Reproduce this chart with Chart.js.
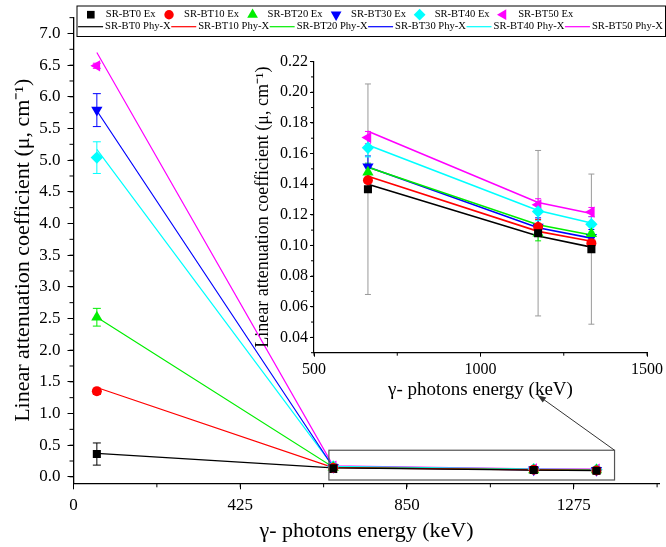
<!DOCTYPE html>
<html>
<head>
<meta charset="utf-8">
<script src="https://cdn.jsdelivr.net/npm/chart.js@4.4.1/dist/chart.umd.min.js"></script>
<style>
  body { margin: 0; background: #fff; }
  #wrap { position: relative; width: 666px; height: 547px; }
  #main { position: absolute; left: 0; top: 0; width: 666px; height: 547px; }
  #inset { position: absolute; left: 250px; top: 50px; width: 416px; height: 355px; }
</style>
</head>
<body>
<div id="wrap">
  <div id="main"><canvas id="mainChart"></canvas></div>
  <div id="inset"><canvas id="insetChart"></canvas></div>
</div>
<script>
// gamma energies (keV)
const energy = [59.5, 662, 1173, 1333];
const samples = ['SR-BT0', 'SR-BT10', 'SR-BT20', 'SR-BT30', 'SR-BT40', 'SR-BT50'];

// experimental values and their errors
const expBT0 = [0.36, 0.1367, 0.108, 0.0976];
const expBT10 = [1.35, 0.1426, 0.112, 0.1015];
const expBT20 = [2.52, 0.1477, 0.108, 0.1077];
const expBT30 = [5.79, 0.1514, 0.112, 0.1054];
const expBT40 = [5.04, 0.1638, 0.1222, 0.1138];
const expBT50 = [6.49, 0.1704, 0.1265, 0.1218];

const errBT0 = [0.175, 0.0687, 0.054, 0.049];
const errBT10 = [0.05, 0.005, 0.005, 0.004];
const errBT20 = [0.14, 0.006, 0.005, 0.005];
const errBT30 = [0.26, 0.007, 0.006, 0.005];
const errBT40 = [0.25, 0.006, 0.006, 0.005];
const errBT50 = [0.04, 0.004, 0.004, 0.003];

// Phy-X/PSD values
const phyBT0 = [0.37, 0.140, 0.1062, 0.0989];
const phyBT10 = [1.41, 0.1452, 0.1092, 0.1028];
const phyBT20 = [2.52, 0.151, 0.1135, 0.1068];
const phyBT30 = [5.78, 0.1512, 0.1115, 0.1048];
const phyBT40 = [5.17, 0.1655, 0.1228, 0.1146];
const phyBT50 = [6.70, 0.1745, 0.1280, 0.1208];

// ticks
const xTicks = [0, 425, 850, 1275];
const yTicks = [0.0, 0.5, 1.0, 1.5, 2.0, 2.5, 3.0, 3.5, 4.0, 4.5, 5.0, 5.5, 6.0, 6.5, 7.0];
const insetXTicks = [500, 1000, 1500];
const insetYTicks = [0.04, 0.06, 0.08, 0.10, 0.12, 0.14, 0.16, 0.18, 0.20, 0.22];

// zoom frame drawn on the main plot (data units) and the arrow tip
const boxX = [651, 1379];
const boxY = [-0.05, 0.42];
const arrowTip = [1183, 1.29];

const expData = [expBT0, expBT10, expBT20, expBT30, expBT40, expBT50];
const errData = [errBT0, errBT10, errBT20, errBT30, errBT40, errBT50];
const phyData = [phyBT0, phyBT10, phyBT20, phyBT30, phyBT40, phyBT50];
const colors = ['#000000', '#ff0000', '#00ee00', '#0000ff', '#00ffff', '#ff00ff'];
const styles = ['rect', 'circle', 'triangle', 'triangle', 'rectRot', 'triangle'];
const rotations = [0, 0, 0, 180, 0, -90];
const radii = [5.7, 5, 6.5, 6.5, 6.2, 6.5];

const serif = "'Liberation Serif', 'Times New Roman', serif";
Chart.defaults.font.family = serif;
Chart.defaults.color = '#000';

const errorBars = {
  id: 'errorBars',
  beforeDatasetsDraw(chart, args, opts) {
    const ctx = chart.ctx, a = chart.chartArea;
    const xs = chart.scales.x, ys = chart.scales.y;
    ctx.save();
    ctx.beginPath();
    ctx.rect(a.left, a.top, a.right - a.left, a.bottom - a.top);
    ctx.clip();
    ctx.lineWidth = 1;
    chart.data.datasets.forEach(ds => {
      if (!ds.errors) return;
      ctx.strokeStyle = ds.errorColor || ds.borderColor;
      ds.data.forEach((p, i) => {
        const e = ds.errors[i];
        const x = xs.getPixelForValue(p.x);
        const y1 = ys.getPixelForValue(p.y - e);
        const y2 = ys.getPixelForValue(p.y + e);
        ctx.beginPath();
        ctx.moveTo(x, y1); ctx.lineTo(x, y2);
        ctx.moveTo(x - opts.cap, y1); ctx.lineTo(x + opts.cap, y1);
        ctx.moveTo(x - opts.cap, y2); ctx.lineTo(x + opts.cap, y2);
        ctx.stroke();
      });
    });
    ctx.restore();
  }
};

const minorTicks = {
  id: 'minorTicks',
  afterDraw(chart, args, opts) {
    const ctx = chart.ctx;
    ctx.save();
    ctx.strokeStyle = '#000';
    ctx.lineWidth = 1;
    opts.list.forEach(([id, start, step, len]) => {
      const s = chart.scales[id];
      for (let k = 0; ; k++) {
        const v = start + k * step;
        if (v > s.max + 1e-9) break;
        if (v < s.min - 1e-9) continue;
        const p = s.getPixelForValue(v);
        ctx.beginPath();
        if (s.isHorizontal()) { ctx.moveTo(p, s.top); ctx.lineTo(p, s.top + len); }
        else { ctx.moveTo(s.right, p); ctx.lineTo(s.right - len, p); }
        ctx.stroke();
      }
    });
    ctx.restore();
  }
};

const zoomFrame = {
  id: 'zoomFrame',
  afterDatasetsDraw(chart) {
    const xs = chart.scales.x, ys = chart.scales.y, ctx = chart.ctx;
    const x0 = xs.getPixelForValue(boxX[0]), x1 = xs.getPixelForValue(boxX[1]);
    const y0 = ys.getPixelForValue(boxY[0]), y1 = ys.getPixelForValue(boxY[1]);
    const ax = xs.getPixelForValue(arrowTip[0]), ay = ys.getPixelForValue(arrowTip[1]);
    ctx.save();
    ctx.strokeStyle = '#555';
    ctx.lineWidth = 1.2;
    ctx.strokeRect(x0, y1, x1 - x0, y0 - y1);
    ctx.strokeStyle = '#333';
    ctx.fillStyle = '#333';
    ctx.lineWidth = 1;
    ctx.beginPath(); ctx.moveTo(x1, y1); ctx.lineTo(ax, ay); ctx.stroke();
    const ang = Math.atan2(ay - y1, ax - x1);
    ctx.beginPath();
    ctx.moveTo(ax, ay);
    ctx.lineTo(ax - 9 * Math.cos(ang - 0.35), ay - 9 * Math.sin(ang - 0.35));
    ctx.lineTo(ax - 9 * Math.cos(ang + 0.35), ay - 9 * Math.sin(ang + 0.35));
    ctx.closePath();
    ctx.fill();
    ctx.restore();
  }
};

const boxLegend = {
  id: 'boxLegend',
  afterDraw(chart, args, opts) {
    const ctx = chart.ctx;
    ctx.save();
    ctx.fillStyle = '#fff';
    ctx.fillRect(opts.left, opts.top, opts.right - opts.left, opts.bottom - opts.top);
    ctx.strokeStyle = '#000';
    ctx.lineWidth = 1;
    ctx.strokeRect(opts.left + 0.5, opts.top + 0.5, opts.right - opts.left, opts.bottom - opts.top);
    ctx.font = '10.6px ' + serif;
    ctx.textBaseline = 'middle';
    let x = opts.left + 7.3;
    samples.forEach((s, i) => {
      ctx.fillStyle = colors[i];
      ctx.strokeStyle = colors[i];
      Chart.helpers.drawPoint(ctx, { pointStyle: styles[i], rotation: rotations[i], radius: radii[i] - 0.3, borderWidth: 0 }, x + 7, opts.row1);
      ctx.fillStyle = '#000';
      const t = s + ' Ex';
      ctx.fillText(t, x + 22, opts.row1);
      x = x + 22 + ctx.measureText(t).width + 6.5;
    });
    x = opts.left + 1.6;
    samples.forEach((s, i) => {
      ctx.strokeStyle = colors[i];
      ctx.lineWidth = 1.2;
      ctx.beginPath(); ctx.moveTo(x, opts.row2); ctx.lineTo(x + 25, opts.row2); ctx.stroke();
      ctx.fillStyle = '#000';
      const t = s + ' Phy-X';
      ctx.fillText(t, x + 27, opts.row2);
      x = x + 27 + ctx.measureText(t).width + 0.5;
    });
    ctx.restore();
  }
};

function buildSets(from, bt0ErrColor, lineWidth) {
  const sets = [];
  samples.forEach((s, i) => {
    sets.push({
      label: s + ' Ex',
      data: energy.slice(from).map((e, j) => ({ x: e, y: expData[i][j + from] })),
      errors: errData[i].slice(from),
      errorColor: i === 0 ? bt0ErrColor : colors[i],
      showLine: false,
      pointStyle: styles[i],
      rotation: rotations[i],
      pointRadius: radii[i],
      pointBackgroundColor: colors[i],
      pointBorderColor: colors[i],
      pointBorderWidth: 0,
      borderColor: colors[i],
      backgroundColor: colors[i]
    });
  });
  samples.forEach((s, i) => {
    sets.push({
      label: s + ' Phy-X',
      data: energy.slice(from).map((e, j) => ({ x: e, y: phyData[i][j + from] })),
      showLine: true,
      borderColor: colors[i],
      borderWidth: lineWidth,
      pointRadius: 0,
      tension: 0
    });
  });
  return sets;
}

document.addEventListener('DOMContentLoaded', () => {
  new Chart(document.getElementById('mainChart'), {
    type: 'scatter',
    data: { datasets: buildSets(0, '#000', 1.2) },
    plugins: [errorBars, minorTicks, zoomFrame, boxLegend],
    options: {
      responsive: true,
      maintainAspectRatio: false,
      animation: false,
      layout: { padding: { top: 6, right: 0, left: 0, bottom: 0 } },
      plugins: {
        legend: { display: false },
        tooltip: { enabled: false },
        errorBars: { cap: 4 },
        minorTicks: { list: [['x', 0, 212.5, 4], ['y', 0, 0.25, 4]] },
        boxLegend: { left: 76.5, right: 665, top: 5.5, bottom: 36, row1: 14.7, row2: 26.7 }
      },
      scales: {
        x: {
          type: 'linear', min: 0, max: 1493.6,
          afterBuildTicks: s => { s.ticks = xTicks.map(v => ({ value: v })); },
          afterFit: s => { s.height = 63.7; },
          grid: { drawOnChartArea: false, drawTicks: true, tickLength: 6, color: '#000', tickWidth: 1 },
          border: { display: true, color: '#000', width: 1.3 },
          ticks: { font: { size: 17 }, padding: 6, color: '#000', callback: v => String(v) },
          title: { display: true, text: 'γ- photons energy (keV)', font: { size: 22 }, padding: { top: 0, bottom: 3 } }
        },
        y: {
          type: 'linear', min: -0.102, max: 7.257,
          afterBuildTicks: s => { s.ticks = yTicks.map(v => ({ value: v })); },
          afterFit: s => { s.width = 73.5; },
          grid: { drawOnChartArea: false, drawTicks: true, tickLength: 6, color: '#000', tickWidth: 1 },
          border: { display: true, color: '#000', width: 1.3 },
          ticks: { font: { size: 17 }, padding: 7, color: '#000', callback: v => Number(v).toFixed(1) },
          title: { display: true, text: 'Linear attenuation coefficient (μ, cm⁻¹)', font: { size: 22 }, padding: { top: 10, bottom: 0 } }
        }
      }
    }
  });

  new Chart(document.getElementById('insetChart'), {
    type: 'scatter',
    data: { datasets: buildSets(1, '#9a9a9a', 1.6) },
    plugins: [errorBars, minorTicks],
    options: {
      responsive: true,
      maintainAspectRatio: false,
      animation: false,
      layout: { padding: { top: 10.7, right: 17.7, left: 0, bottom: 0 } },
      plugins: {
        legend: { display: false },
        tooltip: { enabled: false },
        errorBars: { cap: 3 },
        minorTicks: { list: [['x', 500, 250, 3], ['y', 0.03, 0.01, 3]] }
      },
      scales: {
        x: {
          type: 'linear', min: 500, max: 1500,
          afterBuildTicks: s => { s.ticks = insetXTicks.map(v => ({ value: v })); },
          afterFit: s => { s.height = 52.3; },
          grid: { drawOnChartArea: false, drawTicks: true, tickLength: 4, color: '#000' },
          border: { display: true, color: '#000', width: 1.2 },
          ticks: { font: { size: 16 }, padding: 3, color: '#000', callback: v => String(v) },
          title: { display: true, text: 'γ- photons energy (keV)', font: { size: 19 }, padding: { top: 0, bottom: 3.6 } }
        },
        y: {
          type: 'linear', min: 0.03, max: 0.22,
          afterBuildTicks: s => { s.ticks = insetYTicks.map(v => ({ value: v })); },
          afterFit: s => { s.width = 64; },
          grid: { drawOnChartArea: false, drawTicks: true, tickLength: 4, color: '#000' },
          border: { display: true, color: '#000', width: 1.2 },
          ticks: { font: { size: 16 }, padding: 2, color: '#000', callback: v => Number(v).toFixed(2) },
          title: { display: true, text: 'Linear attenuation coefficient (μ, cm⁻¹)', font: { size: 18 }, padding: { top: 2, bottom: 0 } }
        }
      }
    }
  });
});
</script>
</body>
</html>
